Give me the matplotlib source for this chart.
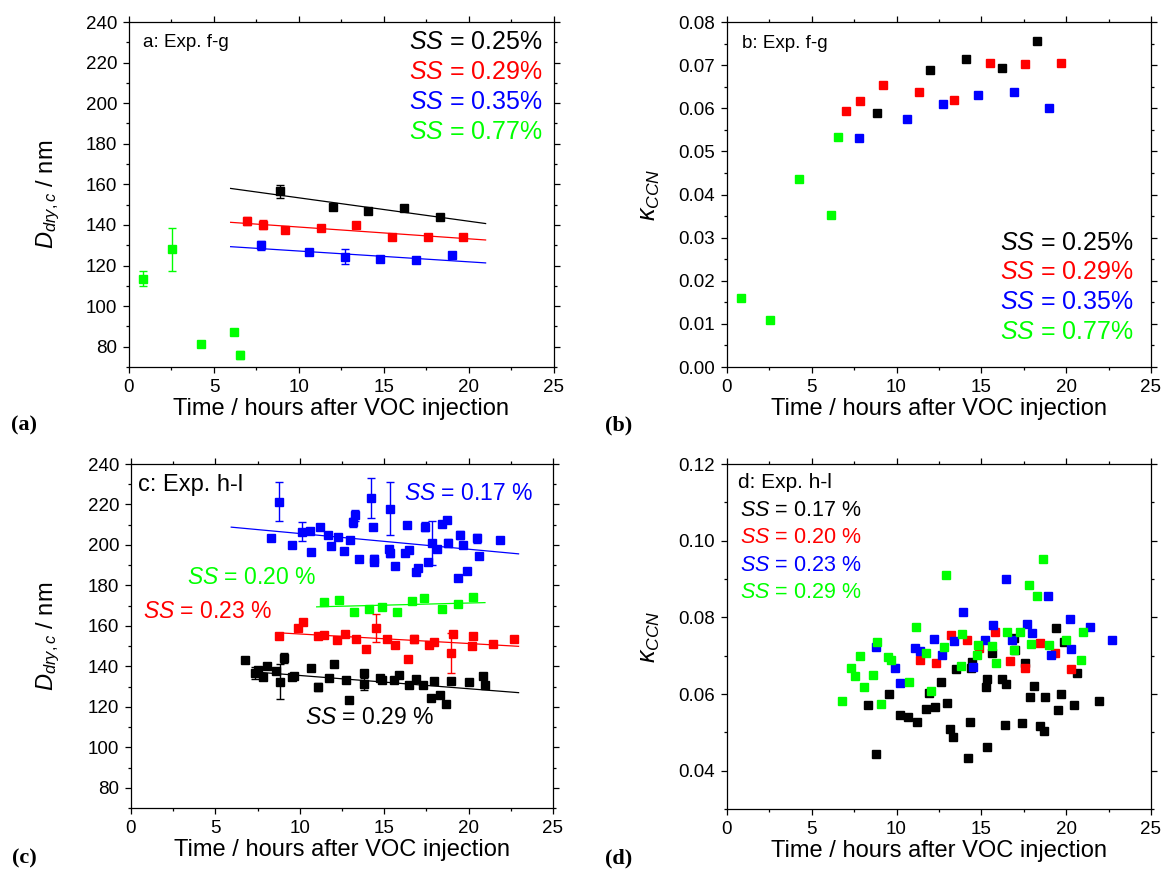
import matplotlib
matplotlib.use('Agg')
import matplotlib.pyplot as plt
from matplotlib.ticker import MultipleLocator, FormatStrFormatter
import numpy as np

plt.rcParams['font.family'] = ['Liberation Sans', 'DejaVu Sans']
plt.rcParams['mathtext.fontset'] = 'custom'
plt.rcParams['mathtext.rm'] = 'Liberation Sans'
plt.rcParams['mathtext.it'] = 'Liberation Sans:italic'
plt.rcParams['mathtext.bf'] = 'Liberation Sans:bold'

BLACK, RED, BLUE, GREEN = '#000000', '#ff0000', '#0000ff', '#00ff00'

# ---------------- panel a: Exp. f-g, Ddry,c ----------------
a_green_t = [0.80, 2.51, 4.23, 6.15, 6.54]
a_green_d = [113.6, 128.0, 81.3, 87.2, 75.9]
a_green_e = [3.6, 10.7, 0, 0, 2.0]
a_black_t = [8.86, 11.99, 14.09, 16.18, 18.28]
a_black_d = [156.7, 148.7, 146.9, 148.4, 144.1]
a_black_e = [3.2, 1.5, 1.5, 1.5, 0]
a_red_t = [6.97, 7.86, 9.19, 11.29, 13.36, 15.48, 17.57, 19.65]
a_red_d = [142.0, 140.2, 137.4, 138.5, 140.0, 134.1, 134.1, 133.9]
a_red_e = [2.0, 2.2, 0, 0, 0, 0, 0, 0]
a_blue_t = [7.76, 10.60, 12.70, 14.79, 16.89, 18.98]
a_blue_d = [130.0, 126.7, 124.4, 123.0, 122.6, 125.1]
a_blue_e = [2.2, 0, 3.6, 0, 0, 0]
# fitted lines (end points)
a_fit_t = [5.98, 20.98]
a_fit_black = [158.0, 140.7]
a_fit_red = [141.3, 132.6]
a_fit_blue = [129.3, 121.3]

# ---------------- panel b: Exp. f-g, kappa ----------------
b_green_t = [0.85, 2.56, 4.27, 6.16, 6.56]
b_green_k = [0.0159, 0.0110, 0.0436, 0.0353, 0.0533]
b_red_t = [7.01, 7.85, 9.21, 11.30, 13.39, 15.49, 17.60, 19.69]
b_red_k = [0.0593, 0.0616, 0.0653, 0.0638, 0.0619, 0.0704, 0.0703, 0.0705]
b_black_t = [8.86, 12.00, 14.11, 16.20, 18.29]
b_black_k = [0.0588, 0.0688, 0.0715, 0.0694, 0.0757]
b_blue_t = [7.76, 10.61, 12.72, 14.82, 16.91, 19.00]
b_blue_k = [0.0531, 0.0574, 0.0609, 0.0631, 0.0637, 0.0600]

# ---------------- panel c: Exp. h-l, Ddry,c ----------------
c_blue_t = [8.28, 8.76, 9.53, 10.16, 10.63, 10.67, 11.22, 11.70, 11.87, 12.25,
            12.60, 12.98, 13.14, 13.29, 13.51, 14.24, 14.34, 14.38, 14.42, 15.30,
            15.34, 15.36, 15.64, 16.25, 16.37, 16.45, 16.86, 16.98, 17.40, 17.60,
            17.85, 18.15, 18.42, 18.74, 18.78, 19.39, 19.49, 19.68, 19.88, 20.51,
            20.63, 21.89]
c_blue_d = [203.4, 221.4, 199.9, 206.5, 207.0, 196.6, 209.0, 204.7, 199.6, 203.9,
            196.9, 202.5, 211.1, 214.6, 193.3, 223.0, 208.8, 193.3, 191.5, 197.9,
            195.8, 217.9, 189.7, 195.8, 210.0, 197.4, 186.4, 188.7, 209.1, 191.8,
            200.9, 197.9, 210.3, 212.1, 200.9, 183.9, 204.9, 199.9, 186.9, 203.2,
            194.3, 202.4]
c_blue_e = [0, 9.7, 0, 4.6, 0, 0, 0, 0, 0, 1.0,
            0, 0, 2.0, 2.7, 0, 9.9, 1.5, 1.5, 0, 1.5,
            2.0, 13.0, 1.5, 0, 1.5, 1.5, 0, 1.5, 2.0, 0,
            11.0, 0, 0, 0, 2.0, 0, 2.0, 0, 0, 2.0,
            0, 0]
c_green_t = [11.42, 12.31, 13.21, 14.10, 14.87, 15.76, 16.67, 17.36, 18.44, 19.37, 20.28]
c_green_d = [171.7, 172.8, 167.1, 168.1, 169.5, 166.7, 172.2, 173.8, 168.4, 170.7, 174.3]
c_green_e = [1.0, 0, 0, 0, 0, 1.5, 0, 0, 1.5, 1.5, 0]
c_red_t = [8.78, 9.92, 10.20, 11.07, 11.42, 12.21, 12.68, 13.35, 13.93, 14.52,
           15.19, 15.66, 16.43, 16.79, 17.65, 17.93, 18.93, 19.09, 20.20, 20.24,
           21.44, 22.68]
c_red_d = [155.0, 159.0, 162.0, 154.9, 155.5, 153.2, 156.2, 153.7, 148.6, 158.8,
           153.5, 150.7, 143.8, 153.4, 150.7, 152.2, 146.4, 156.2, 149.9, 155.2,
           151.2, 153.5]
c_red_e = [1.0, 0, 1.0, 0, 0, 0, 0, 0, 0, 6.9,
           0, 0, 0, 2.0, 0, 0, 9.9, 0, 0, 0,
           1.0, 0]
c_black_t = [6.77, 7.32, 7.53, 7.81, 8.07, 8.62, 8.84, 9.05, 9.51, 9.65,
             10.69, 11.10, 11.74, 12.01, 12.76, 12.90, 13.79, 13.81, 14.73, 14.85,
             15.58, 15.86, 16.49, 16.88, 17.28, 17.79, 17.93, 18.30, 18.66, 18.97,
             20.02, 20.87, 20.99]
c_black_d = [143.1, 136.9, 138.0, 134.7, 140.3, 137.9, 132.4, 144.0, 134.9, 135.4,
             139.2, 129.9, 134.1, 141.2, 133.1, 123.3, 136.5, 131.4, 134.4, 133.1,
             133.1, 135.9, 131.0, 133.6, 131.0, 124.5, 132.7, 125.8, 121.5, 132.7,
             132.1, 135.2, 130.8]
c_black_e = [1.0, 3.0, 0, 0, 1.5, 1.0, 8.7, 2.5, 1.5, 0,
             0, 2.0, 0, 0, 0, 0, 0, 3.0, 1.5, 1.5,
             0, 0, 1.5, 0, 0, 1.5, 0, 0, 1.5, 0,
             1.0, 0, 0]
c_fit_blue_t, c_fit_blue_d = [5.94, 22.96], [208.8, 195.6]
c_fit_green_t, c_fit_green_d = [11.0, 20.97], [169.4, 171.5]
c_fit_red_t, c_fit_red_d = [8.92, 22.96], [156.5, 149.9]
c_fit_black_t, c_fit_black_d = [7.85, 22.96], [136.9, 127.0]

# ---------------- panel d: Exp. h-l, kappa ----------------
d_black_t = [8.29, 8.76, 9.53, 10.18, 10.65, 11.22, 11.71, 11.91, 12.26, 12.61,
             12.99, 13.14, 13.30, 13.50, 14.24, 14.32, 14.40, 14.42, 15.30, 15.32,
             15.36, 15.62, 16.21, 16.38, 16.44, 16.92, 17.00, 17.41, 17.58, 17.88,
             18.13, 18.45, 18.72, 18.76, 19.39, 19.49, 19.69, 19.88, 20.49, 20.63,
             21.91]
d_black_k = [0.0571, 0.0443, 0.0600, 0.0545, 0.0540, 0.0526, 0.0560, 0.0603, 0.0567, 0.0631,
             0.0577, 0.0510, 0.0488, 0.0664, 0.0432, 0.0526, 0.0667, 0.0684, 0.0619, 0.0640,
             0.0463, 0.0707, 0.0640, 0.0519, 0.0625, 0.0747, 0.0716, 0.0524, 0.0682, 0.0592,
             0.0620, 0.0516, 0.0503, 0.0591, 0.0772, 0.0559, 0.0601, 0.0737, 0.0572, 0.0656,
             0.0581]
d_red_t = [11.41, 12.30, 13.22, 14.13, 14.89, 15.78, 16.66, 17.58, 18.47, 19.37, 20.28]
d_red_k = [0.0690, 0.0682, 0.0754, 0.0740, 0.0719, 0.0761, 0.0687, 0.0669, 0.0732, 0.0706, 0.0664]
d_blue_t = [8.76, 9.92, 10.20, 11.06, 11.41, 12.22, 12.69, 13.36, 13.93, 14.52,
            15.19, 15.66, 16.44, 16.80, 17.68, 17.96, 18.94, 19.12, 20.20, 20.28,
            21.43, 22.69]
d_blue_k = [0.0723, 0.0669, 0.0630, 0.0721, 0.0712, 0.0744, 0.0701, 0.0738, 0.0815, 0.0670,
            0.0740, 0.0781, 0.0900, 0.0741, 0.0782, 0.0760, 0.0855, 0.0702, 0.0797, 0.0718,
            0.0775, 0.0740]
d_green_t = [6.76, 7.31, 7.56, 7.82, 8.07, 8.64, 8.82, 9.06, 9.51, 9.69,
             10.71, 11.12, 11.73, 12.02, 12.77, 12.89, 13.81, 13.83, 14.72, 14.83,
             15.62, 15.89, 16.52, 16.92, 17.27, 17.80, 17.94, 18.31, 18.66, 18.96,
             20.00, 20.88, 20.98]
d_green_k = [0.0582, 0.0668, 0.0648, 0.0699, 0.0619, 0.0649, 0.0735, 0.0573, 0.0697, 0.0690,
             0.0632, 0.0776, 0.0708, 0.0609, 0.0723, 0.0910, 0.0674, 0.0756, 0.0703, 0.0727,
             0.0725, 0.0680, 0.0761, 0.0716, 0.0763, 0.0884, 0.0731, 0.0856, 0.0951, 0.0728,
             0.0740, 0.0689, 0.0761]


def points(ax, t, y, color, err=None):
    t = np.asarray(t)
    y = np.asarray(y)
    if err is not None:
        e = np.asarray(err)
        m = e > 0
        if m.any():
            ax.errorbar(t[m], y[m], yerr=e[m], fmt='none', ecolor=color,
                        elinewidth=1.0, capsize=3, capthick=1.0, zorder=2)
    ax.plot(t, y, 's', color=color, ms=5.2, mec=color, zorder=3)


def style(ax, ylim, ymajor, yminor, yfmt=None):
    ax.set_xlim(0, 25)
    ax.set_ylim(*ylim)
    ax.xaxis.set_major_locator(MultipleLocator(5))
    ax.xaxis.set_minor_locator(MultipleLocator(2.5))
    ax.yaxis.set_major_locator(MultipleLocator(ymajor))
    ax.yaxis.set_minor_locator(MultipleLocator(yminor))
    if yfmt:
        ax.yaxis.set_major_formatter(FormatStrFormatter(yfmt))
    ax.tick_params(which='both', direction='out', top=True, right=True,
                   width=0.9, labelsize=13.5)
    ax.tick_params(which='major', length=4.5, pad=4)
    ax.tick_params(which='minor', length=2.5)
    for s in ax.spines.values():
        s.set_linewidth(0.9)
    ax.set_xlabel('Time / hours after VOC injection', fontsize=17)
    ax.xaxis.set_label_coords(0.5, -0.09)


fig = plt.figure(figsize=(11.62, 8.77), dpi=100)
ax_a = fig.add_axes([0.111, 0.5815, 0.3657, 0.3934])
ax_b = fig.add_axes([0.6256, 0.5815, 0.3649, 0.3934])
ax_c = fig.add_axes([0.1127, 0.0787, 0.3632, 0.3922])
ax_d = fig.add_axes([0.6256, 0.0775, 0.3649, 0.3934])

# panel a
points(ax_a, a_green_t, a_green_d, GREEN, a_green_e)
points(ax_a, a_black_t, a_black_d, BLACK, a_black_e)
points(ax_a, a_red_t, a_red_d, RED, a_red_e)
points(ax_a, a_blue_t, a_blue_d, BLUE, a_blue_e)
ax_a.plot(a_fit_t, a_fit_black, color=BLACK, lw=0.9)
ax_a.plot(a_fit_t, a_fit_red, color=RED, lw=0.9)
ax_a.plot(a_fit_t, a_fit_blue, color=BLUE, lw=0.9)
style(ax_a, (70, 240), 20, 10)
ax_a.set_ylabel(r'$D_{dry,c}$ / nm', fontsize=17)
ax_a.yaxis.set_label_coords(-0.157, 0.5)
ax_a.text(0.033, 0.942, 'a: Exp. f-g', transform=ax_a.transAxes, fontsize=13.5, va='center')
for yy, col, lab in zip([0.942, 0.855, 0.768, 0.681], [BLACK, RED, BLUE, GREEN],
                        ['0.25%', '0.29%', '0.35%', '0.77%']):
    ax_a.text(0.974, yy, r'$SS$ = ' + lab, color=col, transform=ax_a.transAxes,
              fontsize=18, ha='right', va='center')

# panel b
points(ax_b, b_green_t, b_green_k, GREEN)
points(ax_b, b_red_t, b_red_k, RED)
points(ax_b, b_black_t, b_black_k, BLACK)
points(ax_b, b_blue_t, b_blue_k, BLUE)
style(ax_b, (0, 0.08), 0.01, 0.005, '%.2f')
ax_b.set_ylabel(r'$\kappa_{CCN}$', fontsize=18)
ax_b.yaxis.set_label_coords(-0.152, 0.5)
ax_b.text(0.035, 0.939, 'b: Exp. f-g', transform=ax_b.transAxes, fontsize=13.5, va='center')
for yy, col, lab in zip([0.359, 0.275, 0.188, 0.101], [BLACK, RED, BLUE, GREEN],
                        ['0.25%', '0.29%', '0.35%', '0.77%']):
    ax_b.text(0.96, yy, r'$SS$ = ' + lab, color=col, transform=ax_b.transAxes,
              fontsize=18, ha='right', va='center')

# panel c
points(ax_c, c_blue_t, c_blue_d, BLUE, c_blue_e)
points(ax_c, c_green_t, c_green_d, GREEN, c_green_e)
points(ax_c, c_red_t, c_red_d, RED, c_red_e)
points(ax_c, c_black_t, c_black_d, BLACK, c_black_e)
ax_c.plot(c_fit_blue_t, c_fit_blue_d, color=BLUE, lw=0.9)
ax_c.plot(c_fit_green_t, c_fit_green_d, color=GREEN, lw=0.9)
ax_c.plot(c_fit_red_t, c_fit_red_d, color=RED, lw=0.9)
ax_c.plot(c_fit_black_t, c_fit_black_d, color=BLACK, lw=0.9)
style(ax_c, (70, 240), 20, 10)
ax_c.set_ylabel(r'$D_{dry,c}$ / nm', fontsize=17)
ax_c.yaxis.set_label_coords(-0.163, 0.5)
ax_c.text(0.017, 0.939, 'c: Exp. h-l', transform=ax_c.transAxes, fontsize=17, va='center')
ax_c.text(0.953, 0.913, r'$SS$ = 0.17 %', color=BLUE, transform=ax_c.transAxes,
          fontsize=16.5, ha='right', va='center')
ax_c.text(0.133, 0.669, r'$SS$ = 0.20 %', color=GREEN, transform=ax_c.transAxes,
          fontsize=16.5, ha='left', va='center')
ax_c.text(0.028, 0.570, r'$SS$ = 0.23 %', color=RED, transform=ax_c.transAxes,
          fontsize=16.5, ha='left', va='center')
ax_c.text(0.412, 0.262, r'$SS$ = 0.29 %', color=BLACK, transform=ax_c.transAxes,
          fontsize=16.5, ha='left', va='center')

# panel d
points(ax_d, d_black_t, d_black_k, BLACK)
points(ax_d, d_red_t, d_red_k, RED)
points(ax_d, d_blue_t, d_blue_k, BLUE)
points(ax_d, d_green_t, d_green_k, GREEN)
style(ax_d, (0.03, 0.12), 0.02, 0.01, '%.2f')
ax_d.set_ylabel(r'$\kappa_{CCN}$', fontsize=18)
ax_d.yaxis.set_label_coords(-0.152, 0.5)
ax_d.text(0.026, 0.945, 'd: Exp. h-l', transform=ax_d.transAxes, fontsize=15, va='center')
for yy, col, lab in zip([0.864, 0.786, 0.707, 0.629], [BLACK, RED, BLUE, GREEN],
                        ['0.17 %', '0.20 %', '0.23 %', '0.29 %']):
    ax_d.text(0.031, yy, r'$SS$ = ' + lab, color=col, transform=ax_d.transAxes,
              fontsize=15.5, ha='left', va='center')

# panel letters
for x, y, lab in [(24, 425, '(a)'), (619, 425, '(b)'), (24, 858, '(c)'), (619, 858, '(d)')]:
    fig.text(x / 1162, 1 - y / 877, lab, fontsize=16, fontweight='bold',
             family='Liberation Serif', ha='center', va='center')

fig.savefig('out.png', dpi=100)
